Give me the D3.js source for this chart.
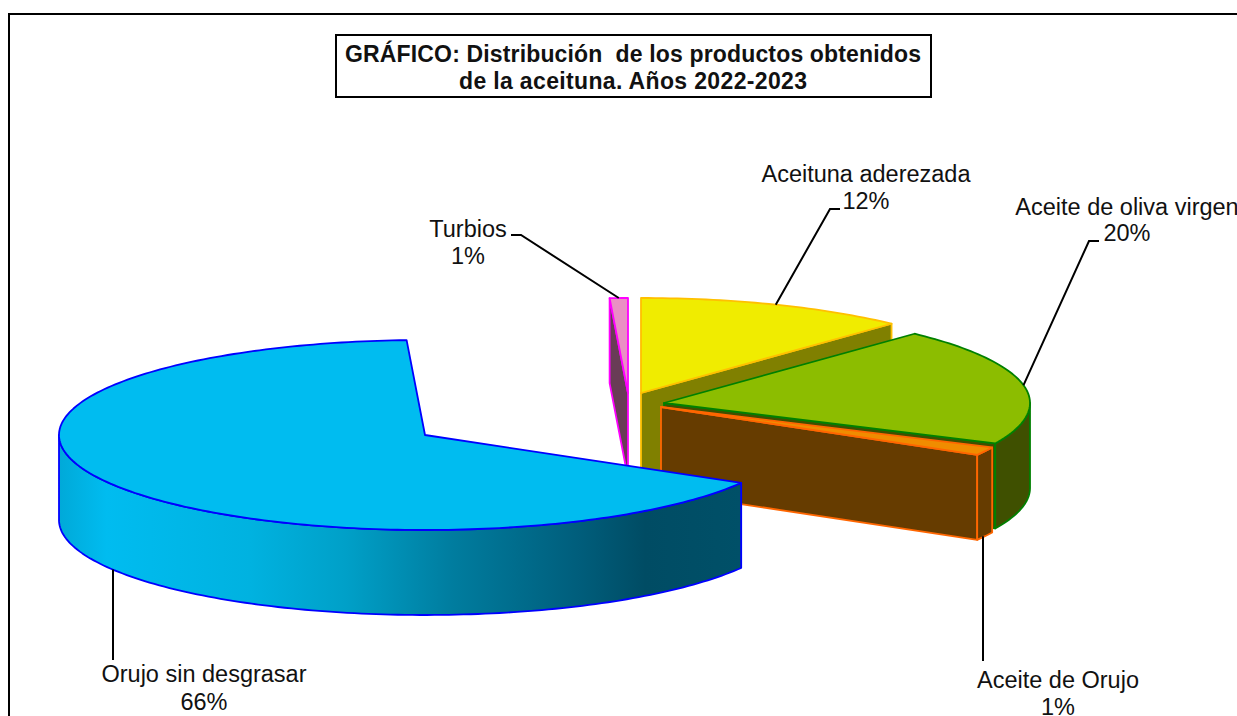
<!DOCTYPE html>
<html><head><meta charset="utf-8">
<script src="https://cdn.jsdelivr.net/npm/d3@7"></script>
<style>html,body{margin:0;padding:0;background:#fff;overflow:hidden}svg{display:block}
text{font-family:"Liberation Sans",Arial,sans-serif;fill:#111}</style>
</head><body><div id="chart"></div>
<script>
// Data
const categories = ["Aceituna aderezada","Aceite de oliva virgen","Aceite de Orujo","Orujo sin desgrasar","Turbios"];
const values = [12, 20, 1.4, 65.8, 0.8];
const topColors = ["#f0ec00","#8cbd00","#f08c00","#00bcf0","#ea8fc4"];
const sideColors = ["#808000","#3f5000","#663c00","#00bcf0","#693c56"];
const strokeColors = ["#ffc000","#008000","#ff6600","#0000ff","#ff00ff"];
const titleLines = ["GRÁFICO: Distribución  de los productos obtenidos","de la aceituna. Años 2022-2023"];

// Layout
const W=1237,H=716,RX=366,RY=95,DEPTH=85;
const apex=[[641,393],[664,403],[661,407],[425,435],[628,393]];
const leaderPts=[[[830,209],[840,209]],[[1089,241],[1099,241]],[[983,661]],[[113,660]],[[521,235],[511,235]]];
const labelPos=[[866,182,209],[1127,215,241],[1058,688,715],[204,682,710],[468,237,264]];
const titleWidths=[576,348];

const svg=d3.select("#chart").append("svg").attr("width",W).attr("height",H);
svg.append("rect").attr("width",W).attr("height",H).attr("fill","#fff");
svg.append("path").attr("d",`M9,${H}V14H${W}`).attr("fill","none").attr("stroke","#000").attr("stroke-width",2);

const defs=svg.append("defs");
const grad=defs.append("linearGradient").attr("id","blueWall").attr("gradientUnits","userSpaceOnUse")
  .attr("x1",59).attr("x2",741).attr("y1",0).attr("y2",0);
[[0,"#00a9d8"],[0.07,"#00bcf0"],[0.28,"#00b2e0"],[0.42,"#00a0c8"],[0.58,"#007c9e"],[0.76,"#005e7c"],[0.86,"#004c64"],[1,"#005068"]]
  .forEach(s=>grad.append("stop").attr("offset",s[0]).attr("stop-color",s[1]));

const arcs=d3.pie().sort(null).startAngle(0).endAngle(2*Math.PI)(values);
const proj=(i,a,dz=0)=>[apex[i][0]+RX*Math.sin(a),apex[i][1]-RY*Math.cos(a)+dz];
const line=d3.line();
const sample=(i,a0,a1,dz=0)=>{const n=Math.max(2,Math.ceil((a1-a0)/0.02));
  return d3.range(n+1).map(k=>proj(i,a0+(a1-a0)*k/n,dz));};

function face(pts,fill,stroke){
  svg.append("path").attr("d",line(pts)+"Z").attr("fill",fill).attr("stroke",stroke)
    .attr("stroke-width",1.8).attr("stroke-linejoin","round");
}
[4,0,1,2,3].forEach(i=>{
  const d=arcs[i],a0=d.startAngle,a1=d.endAngle,A=apex[i];
  const side=sideColors[i],st=strokeColors[i],top=topColors[i];
  const wallFill=i===3?"url(#blueWall)":side;
  // side wall at the visible cut edge
  if(Math.sin(a1)>0.001) face([A,proj(i,a1),proj(i,a1,DEPTH),[A[0],A[1]+DEPTH]],side,st);
  if(Math.sin(a0)<-0.001) face([A,proj(i,a0),proj(i,a0,DEPTH),[A[0],A[1]+DEPTH]],side,st);
  // outer wall
  const w0=Math.max(a0,Math.PI/2),w1=Math.min(a1,3*Math.PI/2);
  if(w1>w0) face(sample(i,w0,w1).concat(sample(i,w0,w1,DEPTH).reverse()),wallFill,st);
  // top
  face([A].concat(sample(i,a0,a1)),top,st);
});

// Leaders
arcs.forEach((d,i)=>{
  const mid=(d.startAngle+d.endAngle)/2,dz=(i===2||i===3)?DEPTH:0;
  const p=proj(i,mid,dz);
  if(i===2||i===3) p[0]=leaderPts[i][0][0];
  svg.append("path").attr("d",line([p].concat(leaderPts[i]))).attr("fill","none").attr("stroke","#000").attr("stroke-width",2);
});

// Labels
categories.forEach((c,i)=>{
  const l=labelPos[i];
  svg.append("text").attr("x",l[0]).attr("y",l[1]).attr("text-anchor","middle").attr("font-size",23.5).text(c);
  svg.append("text").attr("x",l[0]).attr("y",l[2]).attr("text-anchor","middle").attr("font-size",23.5).text(Math.round(values[i])+"%");
});

// Title
svg.append("rect").attr("x",336).attr("y",35).attr("width",595).attr("height",62).attr("fill","#fff").attr("stroke","#000").attr("stroke-width",2);
titleLines.forEach((t,i)=>{
  svg.append("text").attr("x",633).attr("y",62+i*27).attr("text-anchor","middle").attr("font-size",23)
    .attr("font-weight","bold").attr("textLength",titleWidths[i]).attr("lengthAdjust","spacing").style("white-space","pre").text(t);
});
</script></body></html>
